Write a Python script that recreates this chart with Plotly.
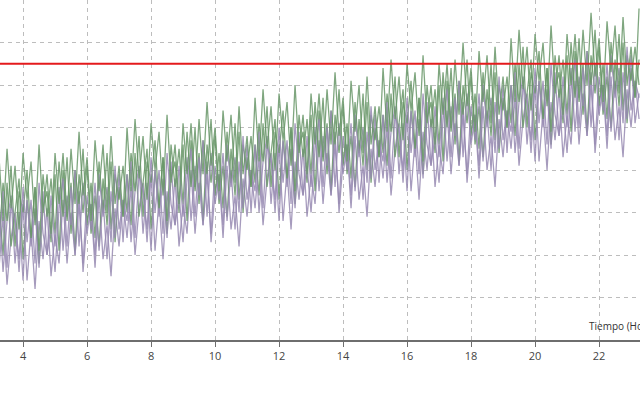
import plotly.graph_objects as go

# Time grid (hours), one sample every 0.125 h
t_start, t_step, n_pts = 3.25, 0.125, 161
tiempo = [t_start + i * t_step for i in range(n_pts)]

verde_1 = [43, 28, 45, 31, 41, 26, 44, 33, 42, 27, 46, 30, 39, 25, 44, 32,
           44, 29, 45, 32, 49, 34, 43, 28, 47, 35, 46, 30, 48, 32, 41, 29,
           50, 35, 52, 38, 48, 33, 51, 40, 49, 34, 53, 37, 46, 32, 51, 39,
           51, 36, 52, 39, 56, 41, 50, 35, 54, 42, 53, 37, 55, 39, 48, 36,
           57, 42, 59, 45, 55, 40, 58, 47, 56, 41, 60, 44, 53, 39, 58, 46,
           58, 43, 59, 46, 63, 48, 57, 42, 61, 49, 60, 44, 62, 46, 55, 43,
           64, 49, 66, 52, 62, 47, 65, 54, 63, 48, 67, 51, 60, 46, 65, 53,
           65, 50, 66, 53, 70, 55, 64, 49, 68, 56, 67, 51, 69, 53, 62, 50,
           71, 56, 73, 59, 69, 54, 72, 61, 70, 55, 74, 58, 67, 53, 72, 60,
           72, 57, 73, 60, 77, 62, 71, 56, 75, 63, 74, 58, 76, 60, 69, 57,
           78]
verde_2 = [23, 37, 28, 41, 22, 35, 30, 40, 24, 36, 21, 39, 29, 38, 25, 42,
           29, 43, 25, 40, 32, 45, 27, 37, 24, 42, 30, 44, 26, 39, 33, 41,
           30, 44, 35, 48, 29, 42, 37, 47, 31, 43, 28, 46, 36, 45, 32, 49,
           36, 50, 32, 47, 39, 52, 34, 44, 31, 49, 37, 51, 33, 46, 40, 48,
           37, 51, 42, 55, 36, 49, 44, 54, 38, 50, 35, 53, 43, 52, 39, 56,
           43, 57, 39, 54, 46, 59, 41, 51, 38, 56, 44, 58, 40, 53, 47, 55,
           44, 58, 49, 62, 43, 56, 51, 61, 45, 57, 42, 60, 50, 59, 46, 63,
           50, 64, 46, 61, 53, 66, 48, 58, 45, 63, 51, 65, 47, 60, 54, 62,
           51, 65, 56, 69, 50, 63, 58, 68, 52, 64, 49, 67, 57, 66, 53, 70,
           57, 71, 53, 68, 60, 73, 55, 65, 52, 70, 58, 72, 54, 67, 61, 69,
           60]
verde_3 = [32, 20, 37, 22, 30, 38, 19, 33, 24, 36, 18, 31, 35, 23, 39, 21,
           40, 28, 37, 21, 39, 30, 41, 25, 34, 22, 38, 27, 42, 23, 36, 29,
           39, 27, 44, 29, 37, 45, 26, 40, 31, 43, 25, 38, 42, 30, 46, 28,
           47, 35, 44, 28, 46, 37, 48, 32, 41, 29, 45, 34, 49, 30, 43, 36,
           46, 34, 51, 36, 44, 52, 33, 47, 38, 50, 32, 45, 49, 37, 53, 35,
           54, 42, 51, 35, 53, 44, 55, 39, 48, 36, 52, 41, 56, 37, 50, 43,
           53, 41, 58, 43, 51, 59, 40, 54, 45, 57, 39, 52, 56, 44, 60, 42,
           61, 49, 58, 42, 60, 51, 62, 46, 55, 43, 59, 48, 63, 44, 57, 50,
           60, 48, 65, 50, 58, 66, 47, 61, 52, 64, 46, 59, 63, 51, 67, 49,
           68, 56, 65, 49, 67, 58, 69, 53, 62, 50, 66, 55, 70, 51, 64, 57,
           66]
morado_1 = [21, 35, 17, 32, 28, 19, 36, 23, 33, 18, 37, 25, 20, 34, 22, 36,
            21, 34, 27, 40, 22, 37, 25, 32, 20, 39, 29, 36, 23, 41, 26, 33,
            28, 42, 24, 39, 35, 26, 43, 30, 40, 25, 44, 32, 27, 41, 29, 43,
            28, 41, 34, 47, 29, 44, 32, 39, 27, 46, 36, 43, 30, 48, 33, 40,
            35, 49, 31, 46, 42, 33, 50, 37, 47, 32, 51, 39, 34, 48, 36, 50,
            35, 48, 41, 54, 36, 51, 39, 46, 34, 53, 43, 50, 37, 55, 40, 47,
            42, 56, 38, 53, 49, 40, 57, 44, 54, 39, 58, 46, 41, 55, 43, 57,
            42, 55, 48, 61, 43, 58, 46, 53, 41, 60, 50, 57, 44, 62, 47, 54,
            49, 63, 45, 60, 56, 47, 64, 51, 61, 46, 65, 53, 48, 62, 50, 64,
            49, 62, 55, 68, 50, 65, 53, 60, 48, 67, 57, 64, 51, 69, 54, 61,
            57]
morado_2 = [32, 16, 28, 34, 18, 30, 14, 33, 22, 31, 17, 35, 20, 27, 16, 31,
            38, 22, 36, 20, 32, 18, 34, 26, 37, 21, 33, 19, 35, 24, 39, 23,
            39, 23, 35, 41, 25, 37, 21, 40, 29, 38, 24, 42, 27, 34, 23, 38,
            45, 29, 43, 27, 39, 25, 41, 33, 44, 28, 40, 26, 42, 31, 46, 30,
            46, 30, 42, 48, 32, 44, 28, 47, 36, 45, 31, 49, 34, 41, 30, 45,
            52, 36, 50, 34, 46, 32, 48, 40, 51, 35, 47, 33, 49, 38, 53, 37,
            53, 37, 49, 55, 39, 51, 35, 54, 43, 52, 38, 56, 41, 48, 37, 52,
            59, 43, 57, 41, 53, 39, 55, 47, 58, 42, 54, 40, 56, 45, 60, 44,
            60, 44, 56, 62, 46, 58, 42, 61, 50, 59, 45, 63, 48, 55, 44, 59,
            66, 50, 64, 48, 60, 46, 62, 54, 65, 49, 61, 47, 63, 52, 67, 51,
            58]
morado_3 = [17, 29, 13, 24, 30, 16, 32, 14, 26, 12, 28, 19, 31, 15, 25, 18,
            33, 18, 30, 20, 35, 16, 28, 32, 17, 34, 19, 27, 15, 31, 22, 33,
            24, 36, 20, 31, 37, 23, 39, 21, 33, 19, 35, 26, 38, 22, 32, 25,
            40, 25, 37, 27, 42, 23, 35, 39, 24, 41, 26, 34, 22, 38, 29, 40,
            31, 43, 27, 38, 44, 30, 46, 28, 40, 26, 42, 33, 45, 29, 39, 32,
            47, 32, 44, 34, 49, 30, 42, 46, 31, 48, 33, 41, 29, 45, 36, 47,
            38, 50, 34, 45, 51, 37, 53, 35, 47, 33, 49, 40, 52, 36, 46, 39,
            54, 39, 51, 41, 56, 37, 49, 53, 38, 55, 40, 48, 36, 52, 43, 54,
            45, 57, 41, 52, 58, 44, 60, 42, 54, 40, 56, 47, 59, 43, 53, 46,
            61, 46, 58, 48, 63, 44, 56, 60, 45, 62, 47, 55, 43, 59, 50, 61,
            52]

umbral = 65
x_ticks = [4, 6, 8, 10, 12, 14, 16, 18, 20, 22]

VERDE = "rgba(105,150,105,0.85)"
MORADO = "rgba(150,138,178,0.85)"

fig = go.Figure()
series = [(morado_3, MORADO), (verde_3, VERDE), (morado_2, MORADO),
          (verde_2, VERDE), (morado_1, MORADO), (verde_1, VERDE)]
for vals, col in series:
    fig.add_trace(go.Scatter(x=tiempo, y=vals, mode="lines",
                             line=dict(color=col, width=1.3), showlegend=False,
                             hoverinfo="skip"))

fig.add_trace(go.Scatter(x=[tiempo[0] - 1, tiempo[-1] + 1], y=[umbral, umbral],
                         mode="lines", line=dict(color="#e41a1c", width=2),
                         showlegend=False, hoverinfo="skip"))

fig.add_annotation(text="Tiempo (Horas)", xref="paper", yref="paper",
                   x=587 / 640, y=(340 - 326) / 340, xanchor="left",
                   yanchor="middle", showarrow=False,
                   font=dict(size=10, color="#333"))

fig.update_layout(
    width=640, height=400,
    margin=dict(l=0, r=0, t=0, b=60, autoexpand=False),
    paper_bgcolor="white", plot_bgcolor="white",
    font=dict(family="Open Sans", size=11, color="#444"),
    xaxis=dict(range=[3.28, 23.28], tickvals=x_ticks,
               showgrid=True, gridcolor="#bdbdbd", griddash="4px,4px", gridwidth=1,
               zeroline=False, showline=True, linecolor="#6e6e6e", linewidth=2,
               ticks="outside", ticklen=5, tickcolor="#6e6e6e",
               tickfont=dict(size=11, color="#444")),
    yaxis=dict(range=[0, 80], dtick=10, showticklabels=False,
               showgrid=True, gridcolor="#bdbdbd", griddash="4px,4px", gridwidth=1,
               zeroline=False, showline=False),
)

fig.write_html("out.html", config={"displayModeBar": False},
               post_script="document.body.style.margin='0';document.body.style.padding='0';")
